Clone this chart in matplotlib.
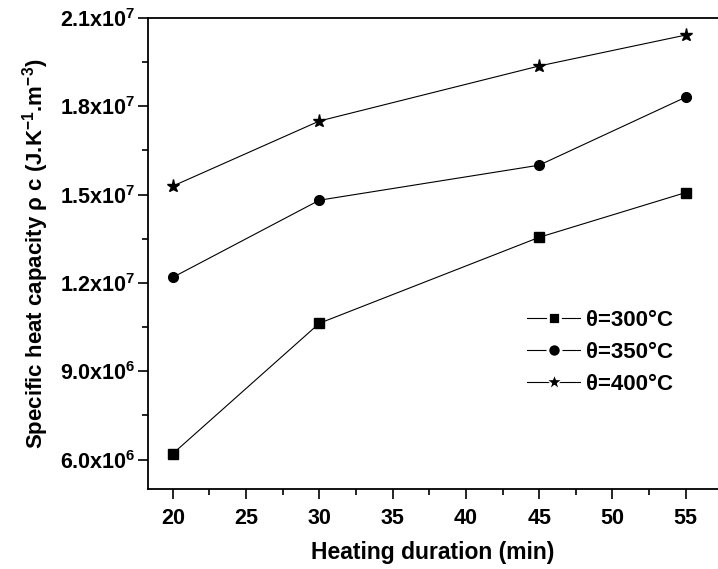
import matplotlib
matplotlib.use("Agg")
import matplotlib.pyplot as plt
from matplotlib.lines import Line2D
from matplotlib.ticker import FuncFormatter, MultipleLocator

plt.rcParams.update({
    "font.family": ["Liberation Sans", "DejaVu Sans"],
    "font.weight": "bold",
    "mathtext.fontset": "custom",
    "mathtext.rm": "Liberation Sans:bold",
    "mathtext.it": "Liberation Sans:bold",
    "mathtext.bf": "Liberation Sans:bold",
    "mathtext.default": "rm",
})

# ── data ──────────────────────────────────────────────────────
duration = [20, 30, 45, 55]
rc_300 = [6.2e6, 10.63e6, 13.55e6, 15.07e6]
rc_350 = [12.19e6, 14.81e6, 16.0e6, 18.31e6]
rc_400 = [15.29e6, 17.5e6, 19.37e6, 20.42e6]
labels = ["θ=300°C", "θ=350°C", "θ=400°C"]
markers = ["s", "o", "*"]
msizes = [6.5, 7, 9.5]


def sci_fmt(v, pos):
    if v <= 0:
        return ""
    e = len(str(int(round(v)))) - 1
    m = v / 10 ** e
    return r"%.1fx10$^{%d}$" % (m, e)


fig = plt.figure(figsize=(7.18, 5.69), dpi=100)
ax = fig.add_axes([0.206, 0.1406, 0.794, 0.8278])

for ys, lab, mk, ms in zip([rc_300, rc_350, rc_400], labels, markers, msizes):
    ax.plot(duration, ys, color="black", lw=0.8, marker=mk, ms=ms,
            mfc="black", mec="black", label=lab)

ax.set_xlim(18.3, 57.2)
ax.set_ylim(5.0e6, 2.1e7)
ax.xaxis.set_major_locator(MultipleLocator(5))
ax.xaxis.set_minor_locator(MultipleLocator(2.5))
ax.yaxis.set_major_locator(MultipleLocator(3e6))
ax.yaxis.set_minor_locator(MultipleLocator(1.5e6))
ax.yaxis.set_major_formatter(FuncFormatter(sci_fmt))

ax.tick_params(which="both", direction="out", width=1.2)
ax.tick_params(which="major", length=7, labelsize=15.5)
ax.tick_params(which="minor", length=4)
ax.tick_params(axis="x", which="major", pad=7)
ax.tick_params(axis="y", which="major", pad=2)
for s in ["left", "bottom", "top"]:
    ax.spines[s].set_linewidth(1.3)
ax.spines["right"].set_visible(False)

ax.set_xlabel("Heating duration (min)", fontsize=16.5, fontweight="bold", labelpad=8)
ax.set_ylabel(r"Specific heat capacity ρ c (J.K$^{-1}$.m$^{-3}$)",
              fontsize=16, fontweight="bold", labelpad=6)

# legend proxies: line broken around the marker, as in the original
leg_ms = [9, 9.5, 12]
leg_mew = [2.0, 2.0, 1.0]
handles = [Line2D([], [], color="black", lw=0.8, marker=mk, ms=ms,
                  mfc="black", mec="white", mew=mw)
           for mk, ms, mw in zip(markers, leg_ms, leg_mew)]
leg = ax.legend(handles, labels, loc="upper left", bbox_to_anchor=(0.665, 0.38),
                frameon=False, fontsize=16, handlelength=2.4, handletextpad=0.25,
                labelspacing=0.5, borderaxespad=0, borderpad=0)
for t in leg.get_texts():
    t.set_fontweight("bold")

fig.savefig("out.png", dpi=100)
